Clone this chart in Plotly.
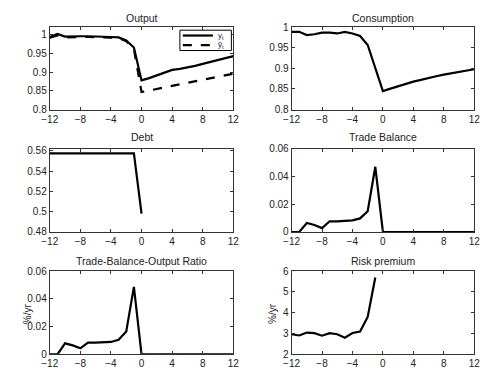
import plotly.graph_objects as go

# ---------------- data ----------------
t = list(range(-12, 13))
t_pre = list(range(-12, 1))
t_rp = list(range(-12, 0))

output_y = [0.994, 1.002, 0.995, 0.996, 0.996, 0.996, 0.996, 0.996, 0.994, 0.993, 0.985, 0.966,
            0.878, 0.884, 0.891, 0.898, 0.906, 0.909, 0.912, 0.917, 0.922, 0.927, 0.932, 0.937, 0.943]
output_ytilde = [0.992, 0.998, 0.993, 0.994, 0.994, 0.994, 0.994, 0.993, 0.992, 0.991, 0.983, 0.962,
                 0.847, 0.851, 0.855, 0.859, 0.863, 0.867, 0.871, 0.875, 0.879, 0.883, 0.887, 0.891, 0.896]
consumption = [0.989, 0.989, 0.981, 0.983, 0.987, 0.987, 0.985, 0.989, 0.985, 0.979, 0.957, 0.902,
               0.845, 0.851, 0.857, 0.862, 0.868, 0.872, 0.877, 0.881, 0.885, 0.888, 0.892, 0.895, 0.898]
debt = [0.5575, 0.5575, 0.5575, 0.5575, 0.5575, 0.5575, 0.5575, 0.5575, 0.5575, 0.5575, 0.5575, 0.5575, 0.498]
trade_balance = [0.0, 0.0, 0.0065, 0.005, 0.0028, 0.0077, 0.0076, 0.008, 0.0084, 0.0098, 0.015, 0.047,
                 0, 0, 0, 0, 0, 0, 0, 0, 0, 0, 0, 0, 0]
tb_output = [0.0, 0.0, 0.008, 0.0065, 0.0044, 0.0085, 0.0085, 0.0087, 0.009, 0.0106, 0.0166, 0.0487,
             0, 0, 0, 0, 0, 0, 0, 0, 0, 0, 0, 0, 0]
risk_premium = [2.97, 2.91, 3.05, 3.02, 2.9, 3.02, 2.97, 2.8, 3.03, 3.1, 3.8, 5.7]

x_ticks = [-12, -8, -4, 0, 4, 8, 12]
output_ticks = [0.8, 0.85, 0.9, 0.95, 1]
output_ticktext = ["0.8", "0.85", "0.9", "0.95", "1"]
debt_ticks = [0.48, 0.5, 0.52, 0.54, 0.56]
debt_ticktext = ["0.48", "0.5", "0.52", "0.54", "0.56"]
tb_ticks = [0, 0.02, 0.04, 0.06]
tb_ticktext = ["0", "0.02", "0.04", "0.06"]
rp_ticks = [2, 3, 4, 5, 6]

titles = ["Output", "Consumption", "Debt", "Trade Balance", "Trade-Balance-Output Ratio", "Risk premium"]
legend_labels = ["y<sub>t</sub>", "ỹ<sub>t</sub>"]

# ---------------- layout geometry ----------------
W, H = 487, 373
cols = [(43, 232), (292, 480)]
rows = [(22, 107), (147.5, 233.5), (274, 360)]
title_y = [12.5, 135, 263]

fig = go.Figure()
LINE = dict(color="black", width=2.2)
FONT = "Liberation Sans, Arial, Helvetica, sans-serif"

def ax(name, r, c):
    return name + ("" if (r == 0 and c == 0) else str(r * 2 + c + 1))

panels = [
    (0, 0, [0.8, 1.02], output_ticks, output_ticktext),
    (0, 1, [0.8, 1.0], output_ticks, output_ticktext),
    (1, 0, [0.48, 0.562], debt_ticks, debt_ticktext),
    (1, 1, [0, 0.06], tb_ticks, tb_ticktext),
    (2, 0, [0, 0.06], tb_ticks, tb_ticktext),
    (2, 1, [2, 6], rp_ticks, [str(v) for v in rp_ticks]),
]

series = [
    [(t, output_y, "solid", legend_labels[0]), (t, output_ytilde, "dash", legend_labels[1])],
    [(t, consumption, "solid", "c")],
    [(t_pre, debt, "solid", "d")],
    [(t, trade_balance, "solid", "tb")],
    [(t, tb_output, "solid", "tby")],
    [(t_rp, risk_premium, "solid", "rp")],
]

axis_common = dict(showline=True, mirror="allticks", linecolor="#333", linewidth=1,
                   ticks="inside", ticklen=3, tickcolor="#333", showgrid=False, zeroline=False,
                   tickfont=dict(size=10, color="#222", family=FONT))

for i, (r, c, yr, yt, ytt) in enumerate(panels):
    xa = ax("xaxis", r, c)
    ya = ax("yaxis", r, c)
    xref = ax("x", r, c)
    yref = ax("y", r, c)
    x0, x1 = cols[c]
    y0, y1 = rows[r]
    fig.update_layout({
        xa: dict(axis_common, domain=[x0 / W, x1 / W], range=[-12, 12], tickvals=x_ticks,
                 ticktext=[("\u2212" + str(-v)) if v < 0 else str(v) for v in x_ticks], anchor=yref),
        ya: dict(axis_common, domain=[1 - y1 / H, 1 - y0 / H], range=yr, tickvals=yt, ticktext=ytt,
                 anchor=xref),
    })
    for xs, ys, dash, nm in series[i]:
        fig.add_trace(go.Scatter(x=xs, y=ys, mode="lines", line=dict(LINE, dash=dash),
                                 name=nm, showlegend=False, xaxis=xref, yaxis=yref))
    fig.add_annotation(text=titles[i], x=(x0 + x1) / 2 / W, y=1 - title_y[r] / H, xref="paper", yref="paper",
                       showarrow=False, xanchor="center", yanchor="middle",
                       font=dict(size=10.5, color="#222", family=FONT))

for xpix in (20, 273):
    fig.add_annotation(text="%/yr", x=xpix / W, y=1 - 318 / H, xref="paper", yref="paper",
                       showarrow=False, textangle=-90, xanchor="center", yanchor="middle",
                       font=dict(size=10, color="#222", family=FONT))

# compact legend box (Output panel, top-right)
lg_x0, lg_x1, lg_y0, lg_y1 = 177, 230, 25, 46
fig.add_shape(type="rect", xref="paper", yref="paper", x0=lg_x0 / W, x1=lg_x1 / W,
              y0=1 - lg_y1 / H, y1=1 - lg_y0 / H, line=dict(color="black", width=1), fillcolor="white")
for k, (dash, ypix) in enumerate([("solid", 30.5), ("dash", 40.5)]):
    fig.add_shape(type="line", xref="paper", yref="paper", x0=180 / W, x1=211 / W,
                  y0=1 - ypix / H, y1=1 - ypix / H, line=dict(color="black", width=2.2, dash=dash))
    fig.add_annotation(text=legend_labels[k], x=214 / W, y=1 - ypix / H, xref="paper", yref="paper",
                       showarrow=False, xanchor="left", yanchor="middle",
                       font=dict(size=8, color="#224", family=FONT))

fig.update_layout(
    width=W, height=H, margin=dict(l=0, r=0, t=0, b=0),
    paper_bgcolor="white", plot_bgcolor="white", showlegend=False,
)

fig.write_html("out.html", config={"displayModeBar": False},
               post_script="document.body.style.margin='0px';document.body.style.overflow='hidden';")
